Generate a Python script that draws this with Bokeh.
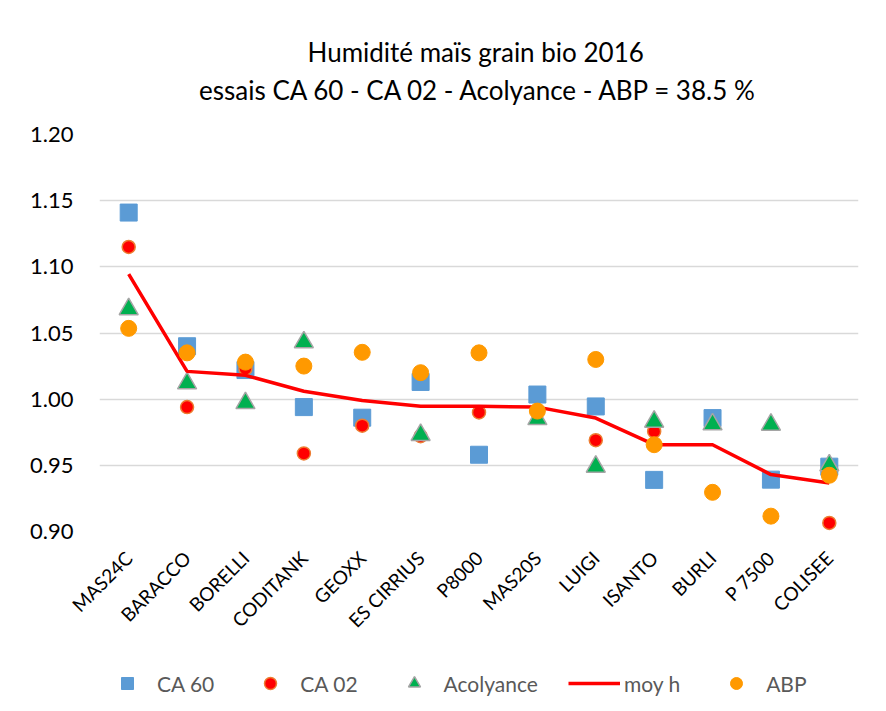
import math
from bokeh.plotting import figure
from bokeh.layouts import column
from bokeh.models import (FixedTicker, PrintfTickFormatter, Title, Legend, LegendItem,
                          ColumnDataSource)
from bokeh.embed import file_html
from bokeh.resources import INLINE

categories = ["MAS24C", "BARACCO", "BORELLI", "CODITANK", "GEOXX", "ES CIRRIUS", "P8000",
              "MAS20S", "LUIGI", "ISANTO", "BURLI", "P 7500", "COLISEE"]
ca60 = [1.141, 1.040, 1.022, 0.994, 0.986, 1.013, 0.958, 1.0035, 0.9945, 0.939, 0.9857, 0.9392, 0.949]
ca02 = [1.115, 0.994, 1.023, 0.959, 0.980, 0.972, 0.990, float("nan"), 0.969, 0.9756, float("nan"), float("nan"), 0.9065]
acolyance = [1.068, 1.012, 0.997, 1.043, float("nan"), 0.973, float("nan"), 0.985, 0.949, 0.983, 0.981, 0.9807, 0.950]
moy_h = [1.0945, 1.021, 1.018, 1.006, 0.999, 0.9947, 0.9947, 0.994, 0.9857, 0.9656, 0.9656, 0.943, 0.9367]
abp = [1.0535, 1.035, 1.028, 1.025, 1.0354, 1.020, 1.035, 0.991, 1.030, 0.9656, 0.9296, 0.9116, 0.9425]
y_ticks = [0.90, 0.95, 1.00, 1.05, 1.10, 1.15, 1.20]
title1 = "Humidité maïs grain bio  2016"
title2 = "essais CA 60 - CA 02 - Acolyance - ABP = 38.5 %"
series_names = ["CA 60", "CA 02", "Acolyance", "moy h", "ABP"]
series_cols = ["ca60", "ca02", "aco", "moy", "abp"]

FONT = "Lato"
p = figure(x_range=categories, y_range=(0.90, 1.20), frame_width=759, frame_height=397,
           output_backend="svg", toolbar_location=None,
           min_border_left=99, min_border_right=28, min_border_top=134, min_border_bottom=100)
p.outline_line_color = None
p.background_fill_color = "white"
p.border_fill_color = "white"

p.add_layout(Title(text=title1 + "\n" + title2, align="center", text_align="center",
                   text_font=FONT, text_font_size="26px", text_line_height=1.2,
                   text_font_style="normal", text_color="#000000", standoff=56), "above")

p.yaxis.ticker = FixedTicker(ticks=y_ticks)
p.yaxis.formatter = PrintfTickFormatter(format="%.2f")
p.yaxis.axis_line_color = None
p.yaxis.major_tick_line_color = None
p.yaxis.minor_tick_line_color = None
p.yaxis.major_label_text_font = FONT
p.yaxis.major_label_text_font_size = "22px"
p.yaxis.major_label_text_color = "#000000"
p.yaxis.major_label_standoff = 20

p.xaxis.axis_line_color = None
p.xaxis.major_tick_line_color = None
p.xaxis.minor_tick_line_color = None
p.xaxis.major_label_orientation = math.pi / 4
p.xaxis.major_label_text_font = FONT
p.xaxis.major_label_text_font_size = "19px"
p.xaxis.major_label_text_color = "#000000"
p.xaxis.major_label_standoff = 17

p.xgrid.grid_line_color = None
p.ygrid.grid_line_color = "#d9d9d9"
p.ygrid.grid_line_width = 1.5
p.ygrid.ticker = FixedTicker(ticks=y_ticks)

src = ColumnDataSource(dict(cat=categories, ca60=ca60, ca02=ca02, aco=acolyance, moy=moy_h, abp=abp))

STY = [dict(marker="square", size=17, fill_color="#5B9BD5", line_color="#5B9BD5", line_width=1),
       dict(marker="circle", size=13, fill_color="#FF0000", line_color="#ED7D31", line_width=1.5),
       dict(marker="triangle", size=19, fill_color="#00B050", line_color="#A5A5A5", line_width=1.5),
       None,
       dict(marker="circle", size=16, fill_color="#FF9900", line_color="#FF9900", line_width=1)]
LINE = dict(line_color="#FF0000", line_width=3.5)

for col, st in zip(series_cols, STY):
    if st is None:
        p.line("cat", col, source=src, **LINE)
    else:
        p.scatter("cat", col, source=src, **st)

# legend strip below the chart (same series, hidden, only their legend entries shown)
lg = figure(width=886, height=70, output_backend="svg", toolbar_location=None,
            x_range=categories, y_range=(0.90, 1.20),
            min_border_left=0, min_border_right=0, min_border_top=0, min_border_bottom=0)
lg.axis.visible = False
lg.grid.visible = False
lg.outline_line_color = None
lg.background_fill_color = "white"
lg.border_fill_color = "white"
rs = []
for col, st in zip(series_cols, STY):
    if st is None:
        rs.append(lg.line("cat", col, source=src, visible=False, **LINE))
    else:
        rs.append(lg.scatter("cat", col, source=src, visible=False, **st))

legend = Legend(items=[LegendItem(label=n, renderers=[r]) for n, r in zip(series_names, rs)],
                orientation="horizontal", location=(2, 14))
legend.border_line_color = None
legend.background_fill_alpha = 0
legend.inactive_fill_alpha = 0
legend.label_text_font = FONT
legend.label_text_font_size = "21px"
legend.label_text_color = "#595959"
legend.spacing = 30
legend.label_standoff = 4
legend.glyph_width = 52
legend.glyph_height = 30
legend.padding = 0
legend.margin = 0
lg.add_layout(legend, "center")

layout = column(p, lg, spacing=0)
open("out.html", "w").write(file_html(layout, INLINE))
